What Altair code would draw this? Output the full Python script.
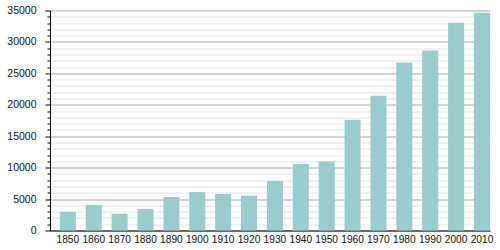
import altair as alt
import pandas as pd

years = [1850, 1860, 1870, 1880, 1890, 1900, 1910, 1920, 1930, 1940,
         1950, 1960, 1970, 1980, 1990, 2000, 2010]
population = [2950, 4080, 2680, 3420, 5330, 6130, 5810, 5540, 7900, 10590,
              10960, 17600, 21440, 26720, 28630, 33040, 34630]
y_ticks = list(range(0, 35001, 1000))

df = pd.DataFrame({"year": years, "pop": population})

FONT = "Liberation Sans"

chart = alt.Chart(df).mark_bar(color="#99cccc").encode(
    x=alt.X("year:O", title=None,
            scale=alt.Scale(paddingInner=0.38, paddingOuter=0.19, align=1),
            axis=alt.Axis(labelAngle=0, ticks=False, domainColor="#000000",
                          labelFont=FONT, labelFontSize=10.2, labelColor="#111111",
                          labelPadding=4, grid=False)),
    y=alt.Y("pop:Q", title=None,
            scale=alt.Scale(domain=[0, 35000], nice=False),
            axis=alt.Axis(values=y_ticks,
                          labelExpr="datum.value % 5000 === 0 ? datum.label : ''",
                          format="d",
                          gridColor={"condition": {"test": "datum.value % 5000 === 0", "value": "#a8a8a8"}, "value": "#e4e4e4"},
                          tickSize={"condition": {"test": "datum.value % 5000 === 0", "value": 5}, "value": 3},
                          tickColor="#000000", domainColor="#000000",
                          labelFont=FONT, labelFontSize=10.5, labelColor="#111111",
                          labelPadding=9)),
).properties(
    width=440, height=220,
    autosize=alt.AutoSizeParams(type="none"),
    padding={"left": 50, "top": 10.5, "right": 10, "bottom": 19.5},
).configure_view(stroke=None)

chart.save("out.html", embed_options={"renderer": "svg", "actions": False})
